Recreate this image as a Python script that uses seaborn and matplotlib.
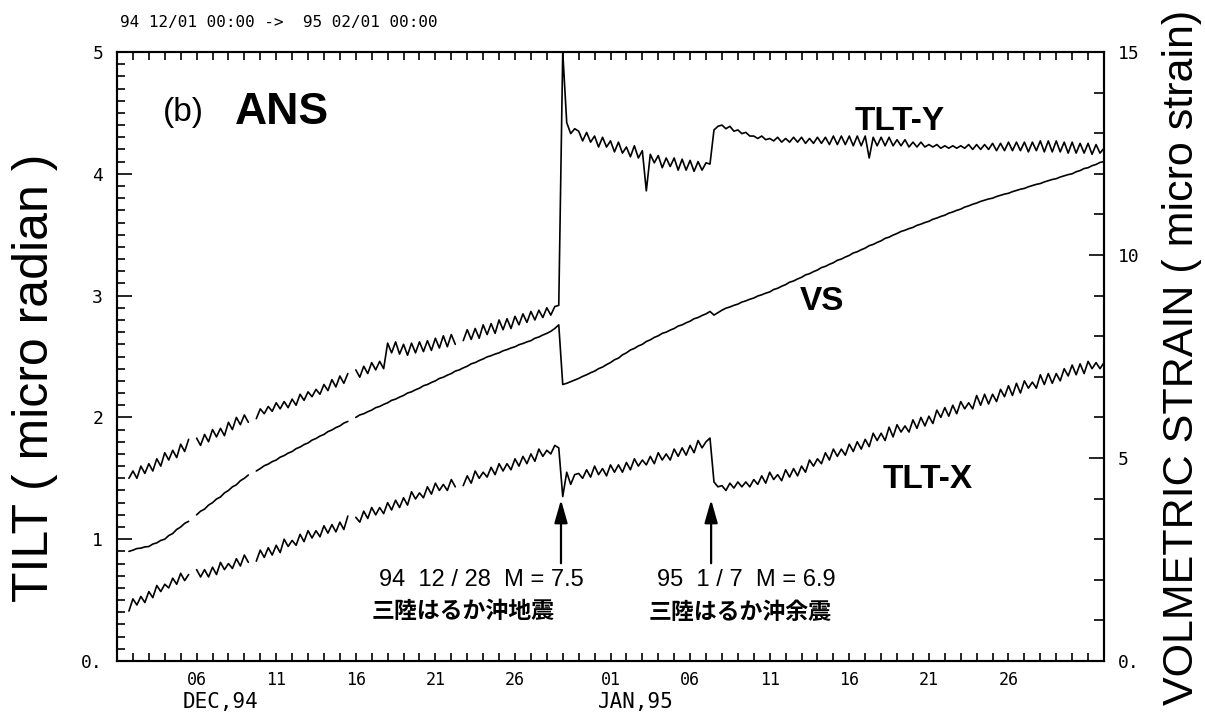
"""Borehole tilt and volumetric strain at ANS, Dec 1994 - Jan 1995."""

import matplotlib
import numpy as np
import pandas as pd
import seaborn as sns
from matplotlib.ticker import FixedLocator, MultipleLocator
from matplotlib.transforms import blended_transform_factory

matplotlib.use("Agg")
import matplotlib.pyplot as plt

NAN = float("nan")

# samples every 6 hours, counted in days from 94 12/01 00:00
start_day = 0.75
step_day = 0.25

# TLT-X, micro radian (NAN = recording gap)
tlt_x = [
    0.41,
    0.51, 0.46, 0.53, 0.48,
    0.57, 0.52, 0.62, 0.57,
    0.63, 0.60, 0.68, 0.63,
    0.72, 0.66, 0.71, NAN,
    0.75, 0.69, 0.75, 0.69,
    0.77, 0.71, 0.81, 0.75,
    0.80, 0.76, 0.84, 0.78,
    0.87, 0.81, NAN, 0.82,
    0.91, 0.85, 0.93, 0.87,
    0.95, 0.89, 1.00, 0.94,
    0.99, 0.95, 1.04, 0.98,
    1.07, 1.01, 1.07, 1.02,
    1.11, 1.05, 1.12, 1.06,
    1.14, 1.08, 1.19, NAN,
    1.18, 1.14, 1.23, 1.17,
    1.26, 1.20, 1.26, 1.21,
    1.30, 1.24, 1.32, 1.26,
    1.34, 1.28, 1.39, 1.33,
    1.38, 1.34, 1.43, 1.37,
    1.46, 1.40, 1.45, 1.40,
    1.49, 1.43, NAN, 1.44,
    1.52, 1.46, 1.56, 1.50,
    1.55, 1.51, 1.59, 1.53,
    1.62, 1.56, 1.62, 1.57,
    1.66, 1.60, 1.68, 1.62,
    1.70, 1.64, 1.74, 1.68,
    1.73, 1.70, 1.77, 1.75,
    1.35, 1.55, 1.45, 1.53,
    1.54, 1.50, 1.57, 1.51,
    1.60, 1.53, 1.58, 1.52,
    1.61, 1.55, 1.61, 1.55,
    1.63, 1.57, 1.66, 1.60,
    1.65, 1.61, 1.68, 1.62,
    1.71, 1.65, 1.70, 1.65,
    1.74, 1.68, 1.75, 1.69,
    1.77, 1.71, 1.81, 1.75,
    1.80, 1.83, 1.47, 1.43,
    1.44, 1.40, 1.46, 1.42,
    1.47, 1.43, 1.47, 1.43,
    1.49, 1.45, 1.52, 1.46,
    1.55, 1.49, 1.53, 1.48,
    1.57, 1.51, 1.58, 1.52,
    1.60, 1.55, 1.65, 1.60,
    1.66, 1.62, 1.71, 1.65,
    1.74, 1.68, 1.74, 1.69,
    1.78, 1.72, 1.80, 1.74,
    1.82, 1.76, 1.87, 1.81,
    1.87, 1.81, 1.92, 1.84,
    1.94, 1.88, 1.93, 1.88,
    1.98, 1.91, 2.00, 1.93,
    2.01, 1.95, 2.06, 2.00,
    2.08, 2.01, 2.10, 2.03,
    2.13, 2.07, 2.12, 2.07,
    2.18, 2.10, 2.19, 2.11,
    2.19, 2.13, 2.23, 2.17,
    2.26, 2.18, 2.28, 2.20,
    2.30, 2.24, 2.29, 2.24,
    2.35, 2.27, 2.36, 2.28,
    2.36, 2.30, 2.40, 2.34,
    2.43, 2.35, 2.44, 2.36,
    2.46, 2.40, 2.45, 2.40,
    2.45,
]

# TLT-Y, micro radian
tlt_y = [
    1.50,
    1.56, 1.50, 1.60, 1.54,
    1.62, 1.56, 1.66, 1.60,
    1.71, 1.65, 1.73, 1.67,
    1.78, 1.72, 1.82, NAN,
    1.83, 1.77, 1.86, 1.80,
    1.90, 1.84, 1.91, 1.85,
    1.96, 1.90, 2.00, 1.94,
    2.02, 1.96, NAN, 1.99,
    2.07, 2.03, 2.09, 2.05,
    2.12, 2.07, 2.13, 2.08,
    2.15, 2.10, 2.19, 2.14,
    2.21, 2.17, 2.23, 2.19,
    2.27, 2.22, 2.31, 2.25,
    2.34, 2.28, 2.36, NAN,
    2.39, 2.33, 2.42, 2.36,
    2.45, 2.39, 2.46, 2.40,
    2.61, 2.53, 2.62, 2.52,
    2.60, 2.51, 2.61, 2.53,
    2.62, 2.54, 2.63, 2.55,
    2.65, 2.57, 2.67, 2.58,
    2.68, 2.60, NAN, 2.63,
    2.72, 2.64, 2.73, 2.65,
    2.76, 2.68, 2.77, 2.69,
    2.80, 2.72, 2.81, 2.73,
    2.83, 2.76, 2.85, 2.78,
    2.87, 2.80, 2.88, 2.82,
    2.90, 2.84, 2.91, 2.92,
    5.00, 4.42, 4.33, 4.37,
    4.35, 4.27, 4.34, 4.26,
    4.31, 4.22, 4.30, 4.22,
    4.27, 4.18, 4.26, 4.17,
    4.22, 4.14, 4.23, 4.13,
    4.19, 3.86, 4.16, 4.09,
    4.15, 4.05, 4.13, 4.06,
    4.13, 4.03, 4.12, 4.03,
    4.11, 4.02, 4.10, 4.03,
    4.09, 4.08, 4.36, 4.39,
    4.40, 4.37, 4.39, 4.35,
    4.36, 4.33, 4.34, 4.31,
    4.31, 4.29, 4.31, 4.28,
    4.29, 4.27, 4.30, 4.26,
    4.29, 4.26, 4.30, 4.26,
    4.30, 4.25, 4.29, 4.25,
    4.30, 4.25, 4.30, 4.24,
    4.31, 4.24, 4.31, 4.24,
    4.31, 4.23, 4.31, 4.23,
    4.31, 4.13, 4.30, 4.23,
    4.30, 4.23, 4.30, 4.23,
    4.28, 4.23, 4.28, 4.22,
    4.26, 4.22, 4.26, 4.22,
    4.24, 4.22, 4.24, 4.21,
    4.23, 4.21, 4.23, 4.21,
    4.23, 4.21, 4.24, 4.20,
    4.24, 4.20, 4.24, 4.20,
    4.25, 4.19, 4.25, 4.19,
    4.26, 4.19, 4.26, 4.19,
    4.26, 4.18, 4.26, 4.19,
    4.27, 4.18, 4.27, 4.18,
    4.27, 4.18, 4.26, 4.17,
    4.26, 4.17, 4.25, 4.17,
    4.25, 4.16, 4.24, 4.17,
    4.21,
]

# VS, micro strain (right axis)
vs = [
    2.70,
    2.73, 2.77, 2.78, 2.81,
    2.82, 2.88, 2.91, 2.97,
    3.00, 3.09, 3.14, 3.24,
    3.30, 3.39, 3.44, NAN,
    3.60, 3.69, 3.74, 3.84,
    3.90, 3.99, 4.04, 4.14,
    4.20, 4.29, 4.34, 4.44,
    4.50, 4.58, NAN, 4.68,
    4.74, 4.81, 4.85, 4.91,
    4.95, 5.02, 5.06, 5.12,
    5.16, 5.23, 5.27, 5.33,
    5.37, 5.44, 5.48, 5.54,
    5.58, 5.65, 5.69, 5.75,
    5.79, 5.86, 5.90, NAN,
    6.00, 6.06, 6.09, 6.14,
    6.18, 6.24, 6.27, 6.32,
    6.36, 6.42, 6.45, 6.50,
    6.54, 6.60, 6.63, 6.68,
    6.72, 6.78, 6.81, 6.86,
    6.90, 6.96, 6.99, 7.04,
    7.08, 7.14, 7.17, 7.22,
    7.26, 7.32, 7.35, 7.40,
    7.44, 7.49, 7.52, 7.56,
    7.59, 7.64, 7.67, 7.71,
    7.74, 7.79, 7.82, 7.86,
    7.89, 7.95, 7.98, 8.03,
    8.07, 8.12, 8.19, 8.28,
    6.81, 6.84, 6.88, 6.92,
    6.96, 7.01, 7.05, 7.10,
    7.14, 7.20, 7.24, 7.30,
    7.35, 7.42, 7.46, 7.54,
    7.59, 7.66, 7.70, 7.76,
    7.80, 7.87, 7.91, 7.97,
    8.01, 8.07, 8.10, 8.15,
    8.19, 8.25, 8.28, 8.33,
    8.37, 8.43, 8.46, 8.51,
    8.55, 8.61, 8.52, 8.58,
    8.64, 8.69, 8.72, 8.76,
    8.79, 8.84, 8.87, 8.91,
    8.94, 8.99, 9.02, 9.06,
    9.09, 9.15, 9.18, 9.23,
    9.27, 9.33, 9.36, 9.41,
    9.45, 9.51, 9.54, 9.59,
    9.63, 9.69, 9.72, 9.77,
    9.81, 9.87, 9.90, 9.95,
    9.99, 10.05, 10.08, 10.13,
    10.17, 10.23, 10.26, 10.31,
    10.35, 10.41, 10.44, 10.49,
    10.53, 10.58, 10.61, 10.65,
    10.68, 10.73, 10.76, 10.80,
    10.83, 10.88, 10.91, 10.95,
    10.98, 11.03, 11.06, 11.10,
    11.13, 11.18, 11.21, 11.25,
    11.28, 11.32, 11.35, 11.38,
    11.40, 11.44, 11.47, 11.50,
    11.52, 11.56, 11.59, 11.62,
    11.64, 11.68, 11.71, 11.74,
    11.76, 11.80, 11.83, 11.86,
    11.88, 11.92, 11.95, 11.98,
    12.00, 12.05, 12.08, 12.13,
    12.15, 12.20, 12.23, 12.28,
    12.30,
]

# x axis: days from Dec 1, labelled every 5 days
tick_days = [5, 10, 15, 20, 25, 31, 36, 41, 46, 51, 56]
tick_labels = ["06", "11", "16", "21", "26", "01", "06", "11", "16", "21", "26"]
month_labels = ["DEC,94", "JAN,95"]
tilt_ticks = [0, 1, 2, 3, 4, 5]
tilt_tick_labels = ["0.", "1", "2", "3", "4", "5"]
strain_ticks = [0, 5, 10, 15]
strain_tick_labels = ["0.", "5", "10", "15"]

# earthquakes: 94 12/28 21:19 and 95 01/07 07:37
event_days = [27.89, 37.32]
event_lines = ["94  12 / 28  M = 7.5", "95  1 / 7  M = 6.9"]
event_names = ["三陸はるか沖地震", "三陸はるか沖余震"]

W, H = 1205, 718


def fx(px):
    return px / W


def fy(py):
    return 1 - py / H


def to_long(name, values):
    s = pd.Series(values, dtype=float)
    days = start_day + step_day * np.arange(len(s))
    seg = s.isna().cumsum().astype(str)
    return pd.DataFrame({"day": days, "value": s, "piece": name + "_" + seg, "series": name})


tilt_df = pd.concat([to_long("TLT-X", tlt_x), to_long("TLT-Y", tlt_y)]).dropna()
vs_df = to_long("VS", vs).dropna()

sns.set_style("ticks")
plt.rcParams["font.family"] = ["Liberation Sans", "Noto Sans CJK JP", "DejaVu Sans"]
plt.rcParams.update({"text.color": "black", "axes.labelcolor": "black",
                     "xtick.color": "black", "ytick.color": "black",
                     "axes.edgecolor": "black"})

fig = plt.figure(figsize=(W / 100, H / 100), dpi=100)
ax = fig.add_axes([fx(117), fy(661), fx(1104) - fx(117), fy(52) - fy(661)])
ax2 = ax.twinx()

line_kw = dict(color="black", linewidth=1.2, estimator=None, legend=False, sort=True)
sns.lineplot(data=tilt_df, x="day", y="value", units="piece", ax=ax, **line_kw)
sns.lineplot(data=vs_df, x="day", y="value", units="piece", ax=ax2, **line_kw)

ax.set_xlim(0, 62)
ax.set_ylim(0, 5)
ax2.set_ylim(0, 15)
for a in (ax, ax2):
    a.set_xlabel("")
    a.set_ylabel("")
    for sp in a.spines.values():
        sp.set_visible(True)
        sp.set_linewidth(1.5)
        sp.set_color("black")

mono = "DejaVu Sans Mono"
ax.xaxis.set_major_locator(FixedLocator(tick_days))
ax.set_xticklabels(tick_labels, family=mono, fontsize=12)
ax.xaxis.set_minor_locator(MultipleLocator(1))
ax.tick_params(axis="x", which="both", direction="in", top=True, bottom=True,
               length=6, width=1.2, color="black")
ax.tick_params(axis="x", which="major", pad=7)

ax.yaxis.set_major_locator(FixedLocator(tilt_ticks))
ax.set_yticklabels(tilt_tick_labels, family=mono, fontsize=13)
ax.yaxis.set_minor_locator(MultipleLocator(0.1))
ax.tick_params(axis="y", which="both", direction="in", left=True, right=False, width=1.2, pad=10)
ax.tick_params(axis="y", which="major", length=11)
ax.tick_params(axis="y", which="minor", length=6)

ax2.yaxis.set_major_locator(FixedLocator(strain_ticks))
ax2.set_yticklabels(strain_tick_labels, family=mono, fontsize=13)
ax2.yaxis.set_minor_locator(MultipleLocator(1))
ax2.tick_params(axis="y", which="both", direction="in", right=True, left=False, width=1.2, pad=10)
ax2.tick_params(axis="y", which="major", length=11)
ax2.tick_params(axis="y", which="minor", length=7)

# month labels under the day numbers
month_x = [6.5, 32.6]
month_tr = blended_transform_factory(ax.transData, fig.transFigure)
for mx, txt in zip(month_x, month_labels):
    ax.text(mx, fy(702), txt, transform=month_tr, ha="center", va="center",
            family=mono, fontsize=15)

fig.text(fx(120), fy(22), "94 12/01 00:00 ->  95 02/01 00:00", family=mono, fontsize=11.5,
         va="center", ha="left")

fig.text(fx(163), fy(112), "(b)", fontsize=24, va="center", ha="left")
fig.text(fx(235), fy(112), "ANS", fontsize=32, fontweight="bold", va="center", ha="left")

fig.text(fx(900), fy(121), "TLT-Y", fontsize=24, fontweight="bold", ha="center", va="center")
fig.text(fx(822), fy(302), "VS", fontsize=24, fontweight="bold", ha="center", va="center")
fig.text(fx(928), fy(480), "TLT-X", fontsize=24, fontweight="bold", ha="center", va="center")

fig.text(fx(35), fy(378), "TILT ( micro radian )", rotation=90, fontsize=36,
         ha="center", va="center")
fig.text(fx(1182), fy(357), "VOLMETRIC STRAIN ( micro strain)", rotation=90, fontsize=31,
         ha="center", va="center")

# arrows and captions for the two earthquakes
text_x = [481, 746]
name_x = [463, 740]
for day, line, name, tx, nx in zip(event_days, event_lines, event_names, text_x, name_x):
    ax.annotate("", xy=(day, (661 - 497) / 121.8), xytext=(day, (661 - 566) / 121.8),
                arrowprops=dict(arrowstyle="-|>,head_length=0.7,head_width=0.2",
                                color="black", lw=1.6, mutation_scale=20))
    fig.text(fx(tx), fy(580), line, fontsize=17, ha="center", va="center")
    fig.text(fx(nx), fy(612), name, fontsize=16.5, fontweight="bold", ha="center", va="center",
             family=["Noto Sans CJK JP", "DejaVu Sans"])

fig.savefig("out.png", dpi=100, facecolor="white")
plt.close(fig)
